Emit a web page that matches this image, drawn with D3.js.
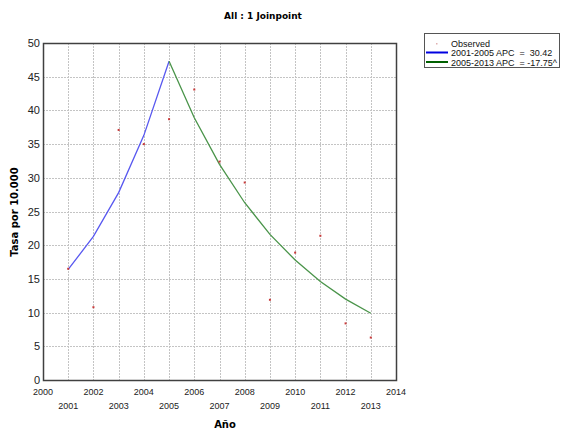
<!DOCTYPE html>
<html><head><meta charset="utf-8">
<script src="https://cdn.jsdelivr.net/npm/d3@7"></script>
<style>body{margin:0;background:#fff} text{white-space:pre}</style>
</head><body>
<svg id="c" width="561" height="432"></svg>
<script>
const years = [2001,2002,2003,2004,2005,2006,2007,2008,2009,2010,2011,2012,2013];
const observed = [16.5,10.8,37.1,35.0,38.7,43.1,32.4,29.3,11.9,18.9,21.4,8.4,6.3];
const seg1Years = [2001,2002,2003,2004,2005];
const seg1Values = [16.4,21.3,27.8,36.3,47.3];
const seg2Years = [2005,2006,2007,2008,2009,2010,2011,2012,2013];
const seg2Values = [47.3,38.9,32.0,26.3,21.6,17.8,14.6,12.0,9.9];
const yTicks = [0,5,10,15,20,25,30,35,40,45,50];
const xTicks = [2000,2001,2002,2003,2004,2005,2006,2007,2008,2009,2010,2011,2012,2013,2014];
const legendLabels = ["Observed","2001-2005 APC  =  30.42","2005-2013 APC  = -17.75^"];

const svg = d3.select("#c");
const L=43,R=396,T=43,B=380;
const x = d3.scaleLinear().domain([2000,2014]).range([L,R]);
const y = d3.scaleLinear().domain([0,50]).range([B,T]);

// grid
svg.append("g").selectAll("line").data(xTicks.slice(1,-1)).join("line")
  .attr("x1",d=>Math.round(x(d))+0.5).attr("x2",d=>Math.round(x(d))+0.5).attr("y1",T).attr("y2",B)
  .attr("stroke","#c4c4c4").attr("stroke-dasharray","2,1").attr("stroke-width",1);
svg.append("g").selectAll("line").data(yTicks.slice(1,-1)).join("line")
  .attr("y1",d=>Math.round(y(d))+0.5).attr("y2",d=>Math.round(y(d))+0.5).attr("x1",L).attr("x2",R)
  .attr("stroke","#c4c4c4").attr("stroke-dasharray","2,1").attr("stroke-width",1);

// frame
svg.append("rect").attr("x",L+0.5).attr("y",T+0.5).attr("width",R-L).attr("height",B-T)
  .attr("fill","none").attr("stroke","#404040").attr("stroke-width",1.5);

// y tick labels
svg.append("g").selectAll("text").data(yTicks).join("text")
  .attr("x",L-3).attr("y",d=>y(d)+4).attr("text-anchor","end")
  .attr("font-family","Liberation Sans, Arial").attr("font-size",11).attr("fill","#222")
  .text(d=>d);
// x tick labels
svg.append("g").selectAll("text").data(xTicks).join("text")
  .attr("x",d=>x(d)).attr("y",(d,i)=>i%2===0?395:409).attr("text-anchor","middle")
  .attr("font-family","Liberation Sans, Arial").attr("font-size",9).attr("fill","#222")
  .text(d=>d);

// lines
const line = d3.line().x(d=>x(d[0])).y(d=>y(d[1]));
svg.append("path").datum(seg1Years.map((v,i)=>[v,seg1Values[i]])).attr("d",line)
  .attr("fill","none").attr("stroke","#5858f0").attr("stroke-width",1.3);
svg.append("path").datum(seg2Years.map((v,i)=>[v,seg2Values[i]])).attr("d",line)
  .attr("fill","none").attr("stroke","#4a944a").attr("stroke-width",1.3);

// points
svg.append("g").selectAll("rect").data(years.map((v,i)=>[v,observed[i]])).join("rect")
  .attr("x",d=>x(d[0])-1).attr("y",d=>y(d[1])-1).attr("width",2).attr("height",2)
  .attr("fill","#c83a3a");

// title & axis labels
svg.append("text").attr("x",263).attr("y",19).attr("text-anchor","middle")
  .attr("font-family","DejaVu Sans").attr("font-weight","bold").attr("font-size",9)
  .text("All : 1 Joinpoint");
svg.append("text").attr("x",225).attr("y",428).attr("text-anchor","middle")
  .attr("font-family","DejaVu Sans").attr("font-weight","bold").attr("font-size",10)
  .text("Año");
svg.append("text").attr("transform","translate(18,212) rotate(-90)").attr("text-anchor","middle")
  .attr("font-family","DejaVu Sans").attr("font-weight","bold").attr("font-size",10)
  .text("Tasa por 10.000");

// legend
const lg = svg.append("g");
lg.append("rect").attr("x",424.5).attr("y",33.5).attr("width",135).attr("height",34)
  .attr("fill","#fff").attr("stroke","#555").attr("stroke-width",1);
lg.append("rect").attr("x",436).attr("y",43).attr("width",1.5).attr("height",1.5).attr("fill","#e0b0b0");
lg.append("line").attr("x1",426).attr("x2",448).attr("y1",52.5).attr("y2",52.5).attr("stroke","#0000e0").attr("stroke-width",2);
lg.append("line").attr("x1",426).attr("x2",448).attr("y1",62).attr("y2",62).attr("stroke","#006000").attr("stroke-width",2);
lg.selectAll("text").data(legendLabels).join("text")
  .attr("x",451).attr("y",(d,i)=>46.5+i*9.5)
  .attr("font-family","Liberation Sans, Arial").attr("font-size",9).attr("fill","#111")
  .attr("xml:space","preserve")
  .text(d=>d);
</script>
</body></html>
